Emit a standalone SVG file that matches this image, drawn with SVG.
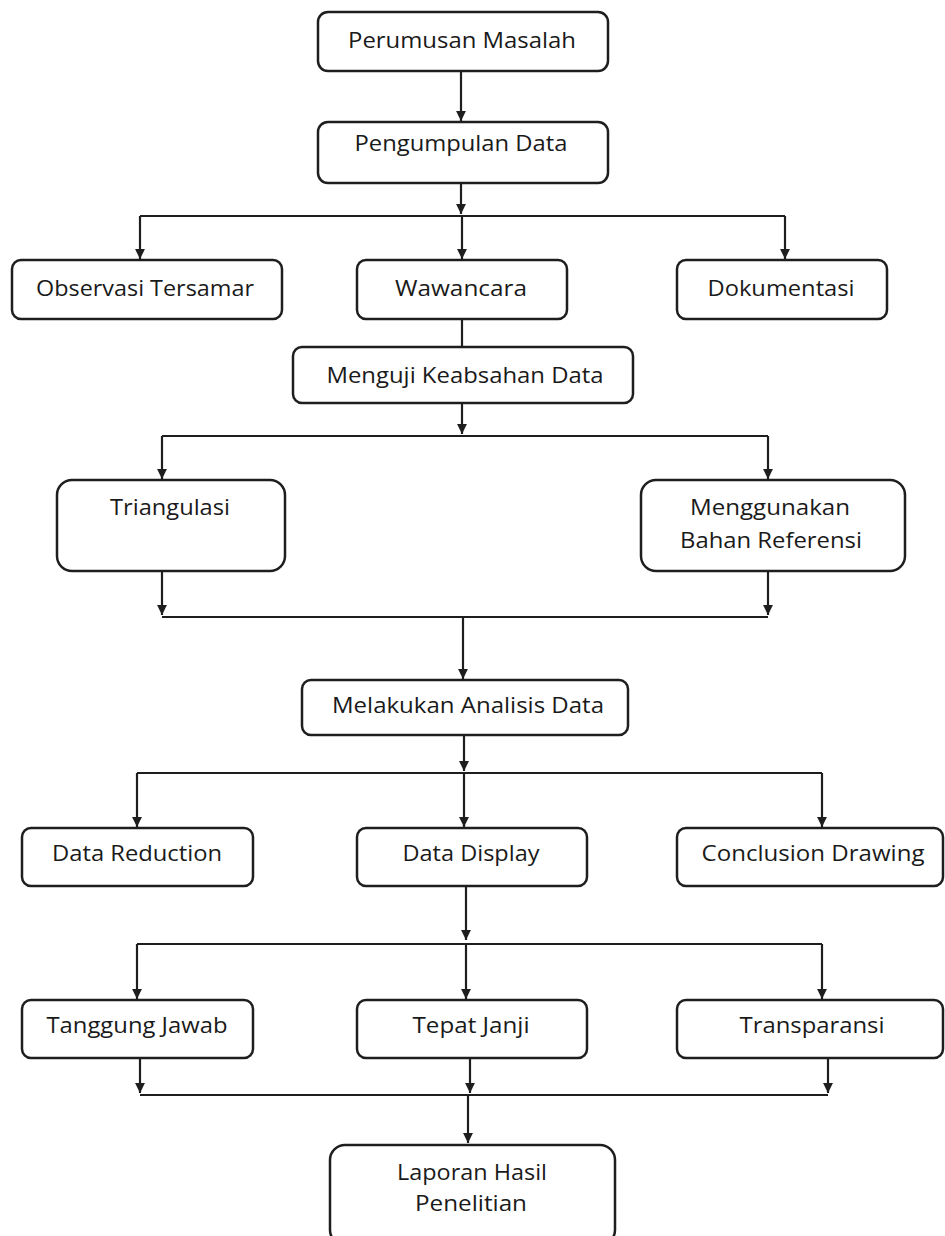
<svg xmlns="http://www.w3.org/2000/svg" width="945" height="1236" viewBox="0 0 945 1236">
<defs>
<style>
.box{fill:#fff;stroke:#1e1e1e;stroke-width:2.5}
.ln{fill:none;stroke:#1e1e1e;stroke-width:2.2}
.t{font-family:"Open Sans","DejaVu Sans",sans-serif;font-size:21px;fill:#1a1a1a;text-anchor:middle}
</style>
<marker id="ah" viewBox="0 0 10 10" refX="10" refY="5" markerWidth="4.5" markerHeight="4.5" orient="auto" markerUnits="strokeWidth">
<path d="M0,0 L10,5 L0,10 Z" fill="#1e1e1e"/>
</marker>
</defs>
<rect width="945" height="1236" fill="#fff"/>
<g id="connectors">
<path class="ln" d="M461,71 V121" marker-end="url(#ah)"/>
<path class="ln" d="M461,183 V214" marker-end="url(#ah)"/>
<path class="ln" d="M140,216 H785"/>
<path class="ln" d="M140,216 V259" marker-end="url(#ah)"/>
<path class="ln" d="M462,216 V259" marker-end="url(#ah)"/>
<path class="ln" d="M785,216 V259" marker-end="url(#ah)"/>
<path class="ln" d="M462,319 V347"/>
<path class="ln" d="M462,403 V434" marker-end="url(#ah)"/>
<path class="ln" d="M162,436 H768"/>
<path class="ln" d="M162,436 V479" marker-end="url(#ah)"/>
<path class="ln" d="M768,436 V479" marker-end="url(#ah)"/>
<path class="ln" d="M162,571 V615" marker-end="url(#ah)"/>
<path class="ln" d="M768,571 V615" marker-end="url(#ah)"/>
<path class="ln" d="M162,617 H768"/>
<path class="ln" d="M463,617 V679" marker-end="url(#ah)"/>
<path class="ln" d="M464,735 V771" marker-end="url(#ah)"/>
<path class="ln" d="M137,773 H822"/>
<path class="ln" d="M137,773 V827" marker-end="url(#ah)"/>
<path class="ln" d="M464,773 V827" marker-end="url(#ah)"/>
<path class="ln" d="M822,773 V827" marker-end="url(#ah)"/>
<path class="ln" d="M466,887 V940" marker-end="url(#ah)"/>
<path class="ln" d="M137,944 H822"/>
<path class="ln" d="M137,944 V999" marker-end="url(#ah)"/>
<path class="ln" d="M466,944 V999" marker-end="url(#ah)"/>
<path class="ln" d="M822,944 V999" marker-end="url(#ah)"/>
<path class="ln" d="M140,1058 V1093" marker-end="url(#ah)"/>
<path class="ln" d="M470,1058 V1093" marker-end="url(#ah)"/>
<path class="ln" d="M828,1058 V1093" marker-end="url(#ah)"/>
<path class="ln" d="M140,1095 H828"/>
<path class="ln" d="M468,1095 V1143" marker-end="url(#ah)"/>
</g>
<g id="n-perumusan"><rect class="box" x="318" y="12" width="290" height="59" rx="10"/><text class="t" x="462" y="48" textLength="228" lengthAdjust="spacingAndGlyphs">Perumusan Masalah</text></g>
<g id="n-pengumpulan"><rect class="box" x="318" y="122" width="290" height="61" rx="10"/><text class="t" x="461" y="151" textLength="213" lengthAdjust="spacingAndGlyphs">Pengumpulan Data</text></g>
<g id="n-observasi"><rect class="box" x="12" y="260" width="270" height="59" rx="9"/><text class="t" x="145" y="296" textLength="218" lengthAdjust="spacingAndGlyphs">Observasi Tersamar</text></g>
<g id="n-wawancara"><rect class="box" x="357" y="260" width="210" height="59" rx="9"/><text class="t" x="461" y="296" textLength="132" lengthAdjust="spacingAndGlyphs">Wawancara</text></g>
<g id="n-dokumentasi"><rect class="box" x="677" y="260" width="210" height="59" rx="9"/><text class="t" x="781" y="296" textLength="147" lengthAdjust="spacingAndGlyphs">Dokumentasi</text></g>
<g id="n-menguji"><rect class="box" x="293" y="347" width="340" height="56" rx="9"/><text class="t" x="465" y="383" textLength="277" lengthAdjust="spacingAndGlyphs">Menguji Keabsahan Data</text></g>
<g id="n-triangulasi"><rect class="box" x="57" y="480" width="228" height="91" rx="15"/><text class="t" x="170" y="515" textLength="120" lengthAdjust="spacingAndGlyphs">Triangulasi</text></g>
<g id="n-menggunakan"><rect class="box" x="641" y="480" width="264" height="91" rx="15"/><text class="t" x="770" y="515" textLength="160" lengthAdjust="spacingAndGlyphs">Menggunakan</text><text class="t" x="771" y="548" textLength="182" lengthAdjust="spacingAndGlyphs">Bahan Referensi</text></g>
<g id="n-melakukan"><rect class="box" x="302" y="680" width="326" height="55" rx="9"/><text class="t" x="468" y="713" textLength="272" lengthAdjust="spacingAndGlyphs">Melakukan Analisis Data</text></g>
<g id="n-reduction"><rect class="box" x="22" y="828" width="231" height="58" rx="9"/><text class="t" x="137" y="861" textLength="170" lengthAdjust="spacingAndGlyphs">Data Reduction</text></g>
<g id="n-display"><rect class="box" x="357" y="828" width="230" height="58" rx="9"/><text class="t" x="471" y="861" textLength="137" lengthAdjust="spacingAndGlyphs">Data Display</text></g>
<g id="n-conclusion"><rect class="box" x="677" y="828" width="266" height="58" rx="9"/><text class="t" x="813" y="861" textLength="223" lengthAdjust="spacingAndGlyphs">Conclusion Drawing</text></g>
<g id="n-tanggung"><rect class="box" x="22" y="1000" width="231" height="58" rx="9"/><text class="t" x="137" y="1033" textLength="181" lengthAdjust="spacingAndGlyphs">Tanggung Jawab</text></g>
<g id="n-tepat"><rect class="box" x="357" y="1000" width="230" height="58" rx="9"/><text class="t" x="471" y="1033" textLength="117" lengthAdjust="spacingAndGlyphs">Tepat Janji</text></g>
<g id="n-transparansi"><rect class="box" x="677" y="1000" width="266" height="58" rx="9"/><text class="t" x="812" y="1033" textLength="145" lengthAdjust="spacingAndGlyphs">Transparansi</text></g>
<g id="n-laporan"><rect class="box" x="330" y="1145" width="285" height="100" rx="15"/><text class="t" x="472" y="1180" textLength="150" lengthAdjust="spacingAndGlyphs">Laporan Hasil</text><text class="t" x="471" y="1211" textLength="112" lengthAdjust="spacingAndGlyphs">Penelitian</text></g>
</svg>
